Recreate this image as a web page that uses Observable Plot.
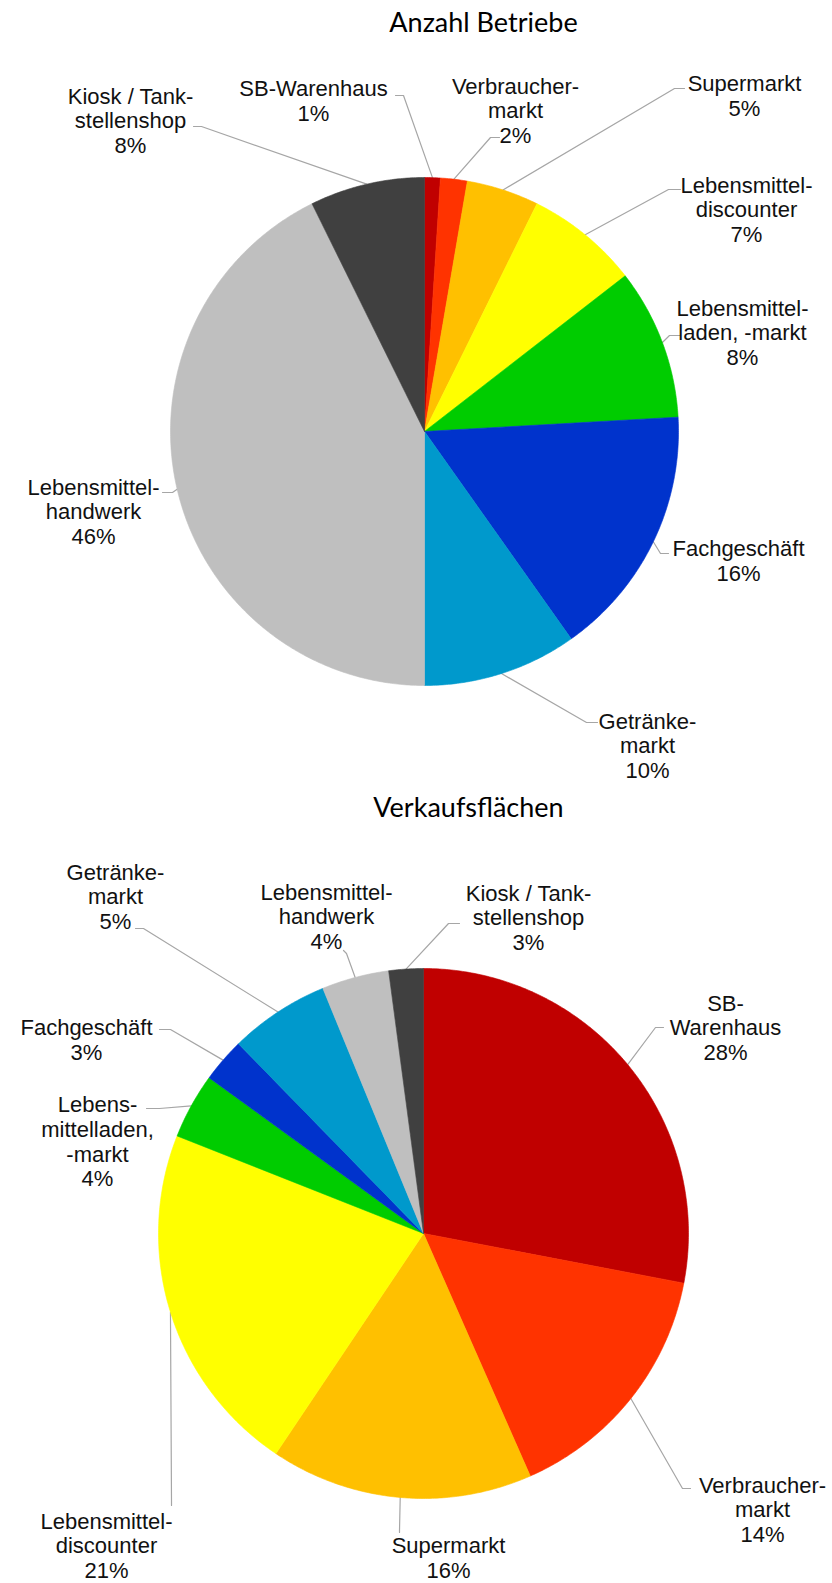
<!DOCTYPE html>
<html>
<head>
<meta charset="utf-8">
<script src="https://cdn.jsdelivr.net/npm/d3@7"></script>
<script src="https://cdn.jsdelivr.net/npm/@observablehq/plot@0.6"></script>
<style>
  html, body { margin: 0; padding: 0; background: #ffffff; }
  #chart { width: 832px; height: 1583px; }
</style>
</head>
<body>
<div id="chart"></div>
<script>
// ---------------- DATA ----------------
const categories = [
  "SB-Warenhaus", "Verbrauchermarkt", "Supermarkt", "Lebensmitteldiscounter",
  "Lebensmittelladen, -markt", "Fachgeschäft", "Getränkemarkt",
  "Lebensmittelhandwerk", "Kiosk / Tankstellenshop"
];
const sliceColors = ["#C00000", "#FF3300", "#FFC000", "#FFFF00", "#00CC00", "#0033CC", "#0099CC", "#BFBFBF", "#404040"];

// Anzahl Betriebe: slice sizes as drawn (share of circle, %) and printed labels (%)
const betriebeShare = [1.0, 1.7, 4.6, 7.2, 9.6, 16.1, 9.8, 42.7, 7.3];
const betriebeLabel = [1, 2, 5, 7, 8, 16, 10, 46, 8];
const betriebeNames = [
  "SB-Warenhaus", "Verbraucher-\nmarkt", "Supermarkt", "Lebensmittel-\ndiscounter",
  "Lebensmittel-\nladen, -markt", "Fachgeschäft", "Getränke-\nmarkt",
  "Lebensmittel-\nhandwerk", "Kiosk / Tank-\nstellenshop"
];

// Verkaufsflächen
const flaechenShare = [28.0, 15.4, 16.0, 21.6, 4.0, 2.7, 6.1, 4.1, 2.1];
const flaechenLabel = [28, 14, 16, 21, 4, 3, 5, 4, 3];
const flaechenNames = [
  "SB-\nWarenhaus", "Verbraucher-\nmarkt", "Supermarkt", "Lebensmittel-\ndiscounter",
  "Lebens-\nmittelladen,\n-markt", "Fachgeschäft", "Getränke-\nmarkt",
  "Lebensmittel-\nhandwerk", "Kiosk / Tank-\nstellenshop"
];

const chartTitles = ["Anzahl Betriebe", "Verkaufsflächen"];

// ---------------- LAYOUT ----------------
const W = 832, H = 1583;
const pies = [
  {
    share: betriebeShare, label: betriebeLabel, names: betriebeNames, title: chartTitles[0],
    cx: 424, cy: 431, r: 254, titlePos: [483, 23],
    labelPos: [[313, 100], [515, 110], [744, 95], [746, 209], [742, 332], [738, 560], [647, 745], [93, 511], [130, 120]],
    leaderPts: [
      [[395, 95], [403, 95]], [[499, 137], [490, 137]], [[684, 88], [674, 88]],
      [[680, 189], [668, 189]], [[680, 335], [669, 335]], [[668, 553], [660, 553]],
      [[597, 722], [586, 722]], [[162, 492], [172, 492]], [[193, 126], [201, 126]]
    ]
  },
  {
    share: flaechenShare, label: flaechenLabel, names: flaechenNames, title: chartTitles[1],
    cx: 423, cy: 1233, r: 265, titlePos: [468, 808],
    labelPos: [[725, 1027], [762, 1509], [448, 1557], [106, 1545], [97, 1141], [86, 1039], [115, 896], [326, 916], [528, 917]],
    leaderPts: [
      [[663, 1027], [655, 1027]], [[690, 1488], [682, 1488]], [[399, 1532], [399, 1530]],
      [[171, 1505], [171, 1500]], [[146, 1108], [159, 1108]], [[159, 1029], [170, 1029]],
      [[135, 928], [143, 928]], [[343, 950], [346, 953]], [[459, 923], [448, 923]]
    ]
  }
];

// ---------------- BUILD MARK DATA ----------------
const slicePts = [];
const leaderData = [];
const labelData = [];
const titleData = [];

pies.forEach((p, pi) => {
  const total = d3.sum(p.share);
  let acc = 0;
  p.share.forEach((v, i) => {
    const a0 = acc / total * 2 * Math.PI;
    acc += v;
    const a1 = acc / total * 2 * Math.PI;
    const id = pi + "-" + i;
    slicePts.push({id, x: p.cx, y: p.cy, color: sliceColors[i]});
    const steps = Math.max(2, Math.ceil((a1 - a0) / (Math.PI / 360)));
    for (let s = 0; s <= steps; s++) {
      const a = a0 + (a1 - a0) * s / steps;
      slicePts.push({id, x: p.cx + p.r * Math.sin(a), y: p.cy - p.r * Math.cos(a), color: sliceColors[i]});
    }
    slicePts.push({id, x: p.cx, y: p.cy, color: sliceColors[i]});
    // leader line: two layout points near the label, then the rim point at the slice's mid angle
    const am = (a0 + a1) / 2;
    const [q0, q1] = p.leaderPts[i];
    leaderData.push({id, x: q0[0], y: q0[1]});
    leaderData.push({id, x: q1[0], y: q1[1]});
    leaderData.push({id, x: p.cx + p.r * Math.sin(am), y: p.cy - p.r * Math.cos(am)});
    labelData.push({
      x: p.labelPos[i][0], y: p.labelPos[i][1],
      text: p.names[i] + "\n" + p.label[i] + "%"
    });
  });
  titleData.push({x: p.titlePos[0], y: p.titlePos[1], text: p.title});
});

const chart = Plot.plot({
  width: W,
  height: H,
  margin: 0,
  x: {domain: [0, W], range: [0, W], axis: null},
  y: {domain: [0, H], range: [0, H], axis: null},
  style: {background: "#ffffff"},
  marks: [
    Plot.line(leaderData, {x: "x", y: "y", z: "id", stroke: "#A6A6A6", strokeWidth: 1.2, curve: "linear"}),
    Plot.line(slicePts, {x: "x", y: "y", z: "id", fill: "color", stroke: "color", strokeWidth: 0.6, curve: "linear"}),
    Plot.text(labelData, {
      x: "x", y: "y", text: "text", fontSize: 22, lineHeight: 1.12,
      fontFamily: "'Liberation Sans', Arial, sans-serif", fill: "#111111", textAnchor: "middle"
    }),
    Plot.text(titleData, {
      x: "x", y: "y", text: "text", fontSize: 27,
      fontFamily: "Lato, 'Open Sans', sans-serif", fill: "#000000", textAnchor: "middle"
    })
  ]
});
document.getElementById("chart").appendChild(chart);
</script>
</body>
</html>
